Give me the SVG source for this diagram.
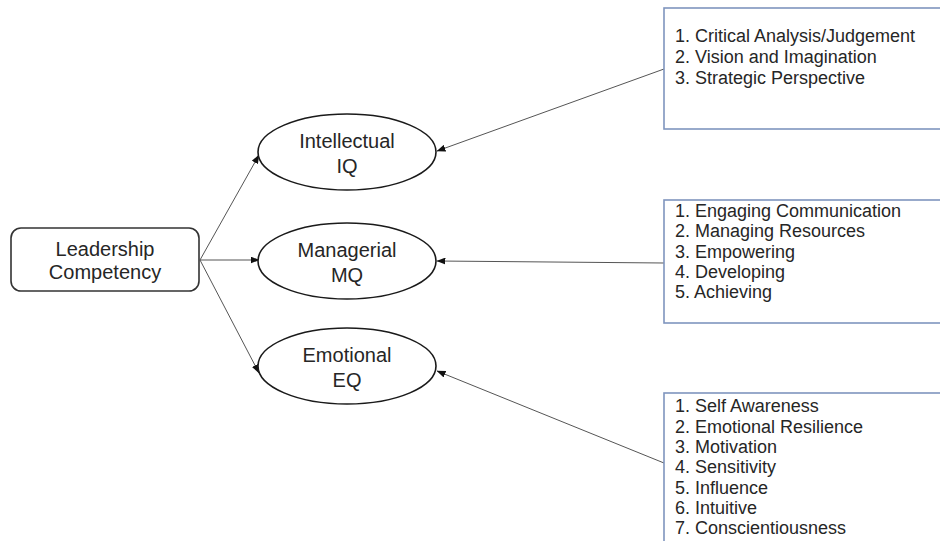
<svg xmlns="http://www.w3.org/2000/svg" width="940" height="541" viewBox="0 0 940 541">
<style>
  .t { font-family: "Liberation Sans", Arial, sans-serif; fill: #262626; }
  .big { font-size: 20px; text-anchor: middle; }
  .list { font-size: 18px; }
  .ell { fill: #ffffff; stroke: #1a1a1a; stroke-width: 1.6; }
  .root { fill: #ffffff; stroke: #333333; stroke-width: 1.6; }
  .box { fill: #ffffff; stroke: #7f95be; stroke-width: 1.6; }
  .conn { stroke: #555555; stroke-width: 1; fill: none; marker-end: url(#arr); }
</style>
<defs>
  <marker id="arr" markerWidth="9" markerHeight="7" refX="8.5" refY="3.5" orient="auto" markerUnits="userSpaceOnUse">
    <path d="M0,0 L9,3.5 L0,7 z" fill="#111111"/>
  </marker>
</defs>
<rect width="940" height="541" fill="#ffffff"/>
<g id="connectors">
  <line class="conn" x1="200" y1="260" x2="259" y2="155"/>
  <line class="conn" x1="200" y1="260" x2="259" y2="260"/>
  <line class="conn" x1="200" y1="260" x2="259" y2="373"/>
  <line class="conn" x1="664" y1="69" x2="437" y2="151"/>
  <line class="conn" x1="664" y1="263" x2="437" y2="261"/>
  <line class="conn" x1="664" y1="463" x2="437" y2="371"/>
</g>
<g id="leadership">
  <rect class="root" x="11" y="228" width="188" height="63" rx="10"/>
  <text class="t big" x="105" y="256">Leadership</text>
  <text class="t big" x="105" y="279">Competency</text>
</g>
<g id="intellectual">
  <ellipse class="ell" cx="347" cy="152" rx="89" ry="38"/>
  <text class="t big" x="347" y="148">Intellectual</text>
  <text class="t big" x="347" y="173">IQ</text>
</g>
<g id="managerial">
  <ellipse class="ell" cx="347" cy="261" rx="89" ry="38"/>
  <text class="t big" x="347" y="257">Managerial</text>
  <text class="t big" x="347" y="282">MQ</text>
</g>
<g id="emotional">
  <ellipse class="ell" cx="347" cy="366" rx="89" ry="38"/>
  <text class="t big" x="347" y="362">Emotional</text>
  <text class="t big" x="347" y="387">EQ</text>
</g>
<g id="iq-list">
  <rect class="box" x="664" y="8" width="290" height="121"/>
  <text class="t list" x="675" y="42">1. Critical Analysis/Judgement</text>
  <text class="t list" x="675" y="63">2. Vision and Imagination</text>
  <text class="t list" x="675" y="84">3. Strategic Perspective</text>
</g>
<g id="mq-list">
  <rect class="box" x="664" y="200" width="290" height="123"/>
  <text class="t list" x="675" y="217">1. Engaging Communication</text>
  <text class="t list" x="675" y="237">2. Managing Resources</text>
  <text class="t list" x="675" y="258">3. Empowering</text>
  <text class="t list" x="675" y="278">4. Developing</text>
  <text class="t list" x="675" y="298">5. Achieving</text>
</g>
<g id="eq-list">
  <rect class="box" x="664" y="393" width="290" height="170"/>
  <text class="t list" x="675" y="412">1. Self Awareness</text>
  <text class="t list" x="675" y="433">2. Emotional Resilience</text>
  <text class="t list" x="675" y="453">3. Motivation</text>
  <text class="t list" x="675" y="473">4. Sensitivity</text>
  <text class="t list" x="675" y="494">5. Influence</text>
  <text class="t list" x="675" y="514">6. Intuitive</text>
  <text class="t list" x="675" y="534">7. Conscientiousness</text>
</g>
</svg>
